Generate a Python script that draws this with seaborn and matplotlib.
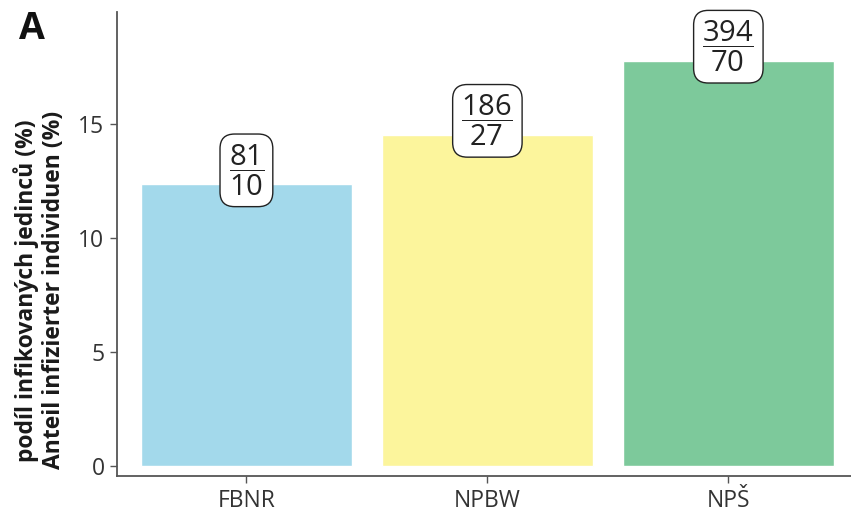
import matplotlib
matplotlib.use("Agg")
import matplotlib.pyplot as plt
import seaborn as sns
import pandas as pd

categories = ["FBNR", "NPBW", "NPŠ"]
values = [12.35, 14.52, 17.77]
totals = ["81", "186", "394"]
infected = ["10", "27", "70"]
colors = ["#a3d9eb", "#fcf59c", "#7dc99b"]
yticks = [0, 5, 10, 15]

sns.set_theme(style="ticks")
plt.rcParams["font.family"] = ["Open Sans", "DejaVu Sans"]
plt.rcParams["mathtext.fontset"] = "custom"
plt.rcParams["mathtext.rm"] = "Open Sans"
plt.rcParams["mathtext.it"] = "Open Sans"
plt.rcParams["mathtext.bf"] = "Open Sans:bold"

df = pd.DataFrame({"site": categories, "pct": values})

fig = plt.figure(figsize=(8.51, 5.17), dpi=100)
ax = fig.add_axes([0.1375, 0.0793, 0.8625, 0.8975])
sns.barplot(data=df, x="site", y="pct", hue="site", palette=colors,
            saturation=1, width=0.875, legend=False, ax=ax)

for i, (v, n, k) in enumerate(zip(values, totals, infected)):
    ax.annotate(r"$\mathrm{\dfrac{%s}{%s}}$" % (n, k), xy=(i, v), xytext=(0, 10),
                textcoords="offset points", ha="center", va="center",
                fontsize=21, color="#222222",
                bbox=dict(boxstyle="round,pad=0.3,rounding_size=0.5",
                          fc="white", ec="#222222", lw=1.0))

ax.set_xlim(-0.537, 2.509)
ax.set_ylim(-0.44, 19.9)
ax.set_yticks(yticks)
ax.set_xlabel("")
ax.set_ylabel("podíl infikovaných jedinců (%)\nAnteil infizierter individuen (%)",
              fontsize=16.5, fontweight="bold", color="#1a1a1a",
              linespacing=1.15)
ax.yaxis.set_label_coords(-0.07, 0.40)
ax.tick_params(axis="both", labelsize=16.5, colors="#555555", labelcolor="#333333",
               length=5, width=1, pad=4)
for s in ["top", "right"]:
    ax.spines[s].set_visible(False)
for s in ["left", "bottom"]:
    ax.spines[s].set_color("#555555")
    ax.spines[s].set_linewidth(1.3)

fig.text(0.022, 0.944, "A", fontsize=27, fontweight="bold", color="#111111",
         ha="left", va="center")

fig.savefig("out.png", dpi=100)
